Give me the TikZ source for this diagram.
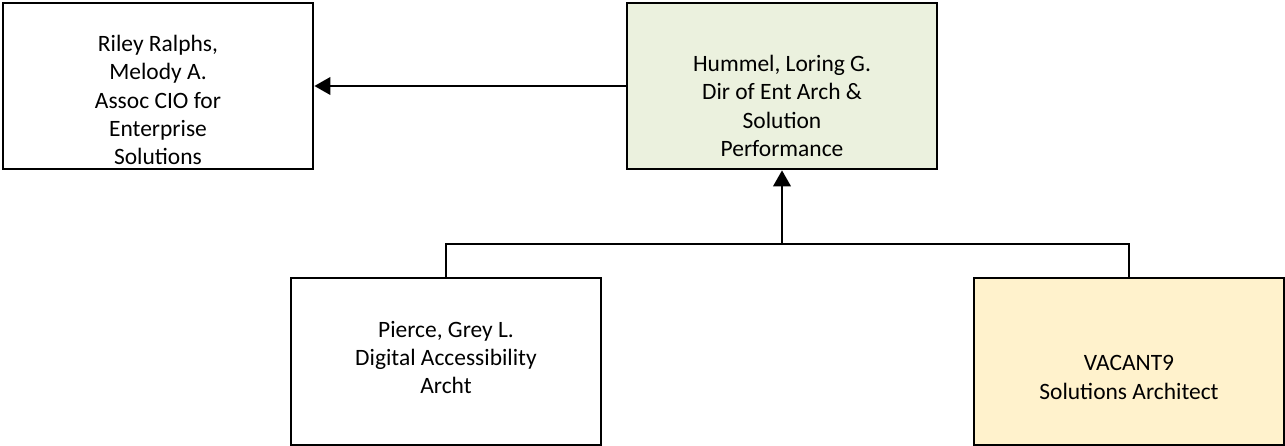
\documentclass[tikz,border=0pt]{standalone}
\usepackage{fontspec}
\setmainfont{Carlito}
\usetikzlibrary{arrows.meta, positioning}
\definecolor{HeadGreen}{RGB}{235,241,222}
\definecolor{VacantYellow}{RGB}{255,242,204}

\begin{document}
\begin{tikzpicture}[x=0.75pt, y=-0.75pt,
    >={Triangle[width=13pt, length=12pt]},
    box/.style={draw, line width=1.5pt, minimum width=233pt, minimum height=125pt, inner sep=0},
    txt/.style={align=center, font=\fontsize{17.6}{21.3}\selectfont, inner sep=0},
    conn/.style={line width=2pt}]
\useasboundingbox (0,0) rectangle (1285,446);

\node[box] (riley) at (158, 86) {};
\node[box, fill=HeadGreen] (hummel) at (782, 86) {};
\node[box] (pierce) at (446, 361.5) {};
\node[box, fill=VacantYellow] (vacant) at (1129, 361.5) {};

\node[txt] (riley text) at ([yshift=-10.5pt]riley.center) {Riley Ralphs,\\Melody A.\\Assoc CIO for\\Enterprise\\Solutions};
\node[txt] (hummel text) at ([yshift=-15pt]hummel.center) {Hummel, Loring G.\\Dir of Ent Arch \&\\Solution\\Performance};
\node[txt] (pierce text) at ([yshift=3pt]pierce.center) {Pierce, Grey L.\\Digital Accessibility\\Archt};
\node[txt] (vacant text) at ([yshift=-12pt]vacant.center) {VACANT9\\Solutions Architect};

\coordinate (bus) at (782, 244);
\draw[conn] (pierce.north) |- (bus) -| (vacant.north);
\draw[conn, ->] (bus) -- (hummel.south);
\draw[conn, ->] (hummel.west) -- (riley.east);
\end{tikzpicture}
\end{document}
